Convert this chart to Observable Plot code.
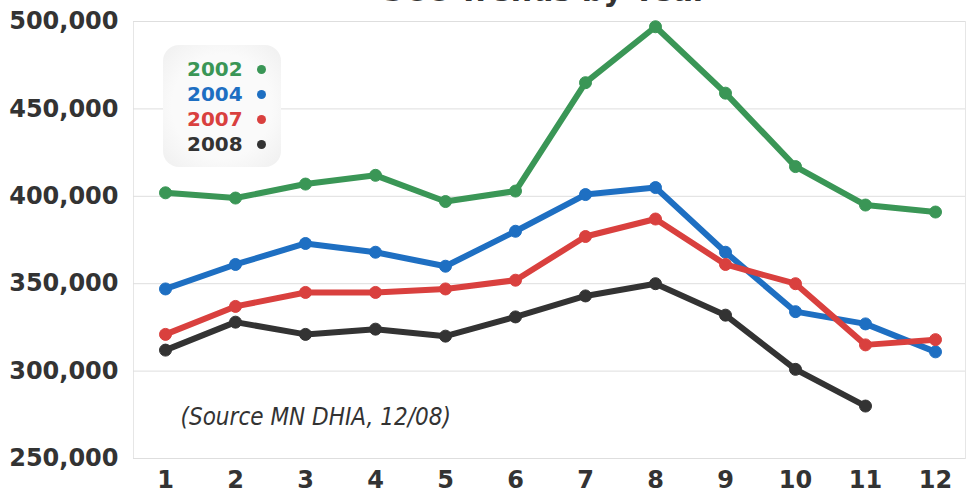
<!DOCTYPE html>
<html><head><meta charset="utf-8">
<script src="https://cdn.jsdelivr.net/npm/d3@7"></script>
<script src="https://cdn.jsdelivr.net/npm/@observablehq/plot@0.6"></script>
<style>
body{margin:0;background:#fff;}
#wrap{position:relative;width:969px;height:498px;overflow:hidden;}
#title{position:absolute;left:0;width:1090px;text-align:center;top:-27px;font:bold 30px "DejaVu Sans";color:#333;white-space:nowrap;}
#legend{position:absolute;left:163px;top:45px;width:118px;height:122px;border-radius:16px;background:radial-gradient(ellipse at center,#fafafa 60%,#efefef 100%);}
#legend div{position:absolute;left:24px;font:bold 20px "DejaVu Sans";line-height:20px;white-space:nowrap;}
#legend span{display:inline-block;width:9px;height:9px;border-radius:50%;margin-left:14px;vertical-align:2px;}
.src{font-stretch:condensed;}
</style></head>
<body><div id="wrap"><div id="chart"></div><div id="title"></div><div id="legend"></div></div>
<script>
const titleText = "SCC Trends by Year";
const sourceText = "(Source MN DHIA, 12/08)";
const months = [1,2,3,4,5,6,7,8,9,10,11,12];
const years = ["2002","2004","2007","2008"];
const colors = ["#3a9656","#1e6fc2","#d9403e","#333333"];
const v2002 = [402000,399000,407000,412000,397000,403000,465000,497000,459000,417000,395000,391000];
const v2004 = [347000,361000,373000,368000,360000,380000,401000,405000,368000,334000,327000,311000];
const v2007 = [321000,337000,345000,345000,347000,352000,377000,387000,361000,350000,315000,318000];
const v2008 = [312000,328000,321000,324000,320000,331000,343000,350000,332000,301000,280000];
const yTicks = [250000,300000,350000,400000,450000,500000];

const series = [v2002,v2004,v2007,v2008];
const data = years.flatMap((yr,i)=>series[i].map((v,j)=>({year:yr,month:months[j],value:v})));

document.getElementById("title").textContent = titleText;
const leg = document.getElementById("legend");
years.forEach((yr,i)=>{
  const d = document.createElement("div");
  d.style.top = (14 + i*25) + "px";
  d.style.color = colors[i];
  d.innerHTML = yr + "<span style='background:"+colors[i]+"'></span>";
  leg.appendChild(d);
});

const chart = Plot.plot({
  width:969, height:498,
  marginLeft:133, marginRight:4, marginTop:21, marginBottom:40,
  style:{fontFamily:"DejaVu Sans", background:"transparent"},
  x:{domain:[1,12], range:[165,935]},
  y:{domain:[250000,500000]},
  color:{domain:years, range:colors},
  marks:[
    Plot.frame({stroke:"#e6e6e6"}),
    Plot.gridY(yTicks,{stroke:"#dedede", strokeOpacity:1}),
    Plot.axisY(yTicks,{tickSize:0, tickPadding:15, tickFormat:d3.format(","), fontSize:24, fontWeight:"bold", fill:"#333", label:null}),
    Plot.axisX(months,{tickSize:0, tickPadding:12, fontSize:24, fontWeight:"bold", fill:"#333", label:null}),
    Plot.text([sourceText],{className:"src", frameAnchor:"bottom-left", dx:47, dy:-34, fontSize:24, fontStyle:"italic", fontFamily:"'DejaVu Sans Condensed', 'Liberation Sans Narrow', 'Liberation Sans', sans-serif", fill:"#333", textAnchor:"start"}),
    Plot.line(data,{x:"month", y:"value", stroke:"year", z:"year", strokeWidth:6}),
    Plot.dot(data,{x:"month", y:"value", fill:"year", r:6, stroke:"year", strokeWidth:1})
  ]
});
document.getElementById("chart").appendChild(chart);
</script></body></html>
